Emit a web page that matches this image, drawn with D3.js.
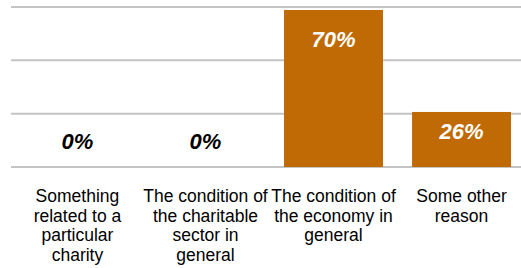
<!DOCTYPE html>
<html>
<head>
<meta charset="utf-8">
<script src="https://cdn.jsdelivr.net/npm/d3@7"></script>
<style>
  body { margin: 0; background: #fff; }
</style>
</head>
<body>
<div id="chart"></div>
<script>
// categories, split into lines as they wrap in the picture
const categories = [
    ["Something", "related to a", "particular", "charity"],
    ["The condition of", "the charitable", "sector in", "general"],
    ["The condition of", "the economy in", "general"],
    ["Some other", "reason"]
]
// bar heights (percent)
const values = [0, 0, 73.6, 25.8]
// the labels printed on the bars
const valueLabels = ["0%", "0%", "70%", "26%"]
const gridTicks = [0, 25, 50, 75]

const w = 521
const h = 268
const plotTop = 7
const base = 167
const gridLeft = 11

const svg = d3.select('#chart')
    .append('svg')
    .attr('width', w)
    .attr('height', h)

const xScale = d3.scaleBand()
    .domain(d3.range(categories.length))
    .range([13.5, 525.5])
    .paddingInner(0.227)
    .paddingOuter(0.113)

const yScale = d3.scaleLinear()
    .domain([0, 75])
    .range([base, plotTop])

// gridlines
svg.append('g')
    .selectAll('line')
    .data(gridTicks)
    .enter()
    .append('line')
    .attr('x1', gridLeft)
    .attr('x2', w)
    .attr('y1', d => yScale(d))
    .attr('y2', d => yScale(d))
    .attr('stroke', '#c4c4c4')
    .attr('stroke-width', 2)

// bars
svg.selectAll('rect.bar')
    .data(values)
    .enter()
    .append('rect')
    .attr('class', 'bar')
    .attr('x', (d, i) => xScale(i))
    .attr('y', d => yScale(d))
    .attr('width', xScale.bandwidth())
    .attr('height', d => base - yScale(d))
    .attr('fill', '#bf6a04')

// value labels
svg.selectAll('text.val')
    .data(values)
    .enter()
    .append('text')
    .attr('class', 'val')
    .attr('x', (d, i) => xScale(i) + xScale.bandwidth() / 2)
    .attr('y', d => d > 0 ? yScale(d) + 30 + (d > 50 ? 7 : -3) : base - 18)
    .attr('text-anchor', 'middle')
    .style('font-family', 'Liberation Sans, Arial, sans-serif')
    .style('font-weight', 'bold')
    .style('font-style', 'italic')
    .style('font-size', '22px')
    .attr('fill', d => d > 0 ? '#ffffff' : '#000000')
    .text((d, i) => valueLabels[i])

// category labels
const cats = svg.selectAll('text.cat')
    .data(categories)
    .enter()
    .append('text')
    .attr('class', 'cat')
    .attr('text-anchor', 'middle')
    .style('font-family', 'Liberation Sans, Arial, sans-serif')
    .style('font-size', '17.5px')
    .attr('fill', '#000')

cats.selectAll('tspan')
    .data((d, i) => d.map(line => ({ line: line, i: i })))
    .enter()
    .append('tspan')
    .attr('x', d => xScale(d.i) + xScale.bandwidth() / 2)
    .attr('y', (d, j) => 202 + j * 19.5)
    .text(d => d.line)
</script>
</body>
</html>
